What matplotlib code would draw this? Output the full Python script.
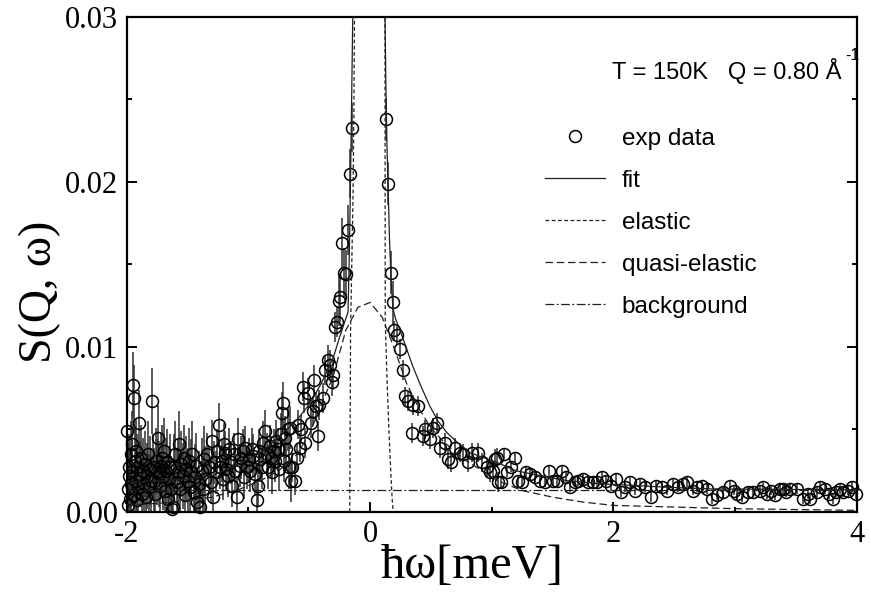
import numpy as np
import matplotlib
matplotlib.use("Agg")
import matplotlib.pyplot as plt
from matplotlib.lines import Line2D
from matplotlib.ticker import MultipleLocator, FormatStrFormatter

plt.rcParams['font.family'] = ['Liberation Serif', 'DejaVu Serif']
plt.rcParams['axes.unicode_minus'] = False

# ---------------- data ----------------
# segment 1: -2 .. -1.35
x1 = [-1.997,-1.993,-1.988,-1.983,-1.978,-1.973,-1.968,-1.963,-1.958,-1.953,
      -1.947,-1.942,-1.937,-1.932,-1.927,-1.922,-1.917,-1.912,-1.905,-1.898,
      -1.890,-1.882,-1.874,-1.866,-1.858,-1.850,-1.842,-1.834,-1.826,-1.818,
      -1.810,-1.800,-1.791,-1.782,-1.774,-1.766,-1.758,-1.750,-1.742,-1.734,
      -1.726,-1.718,-1.710,-1.702,-1.694,-1.686,-1.678,-1.670,-1.662,-1.654,
      -1.646,-1.638,-1.630,-1.619,-1.610,-1.600,-1.590,-1.580,-1.570,-1.560,
      -1.550,-1.540,-1.530,-1.520,-1.510,-1.500,-1.490,-1.480,-1.470,-1.460,
      -1.450,-1.440,-1.430,-1.420,-1.410,-1.397,-1.385,-1.375,-1.365,-1.355]
y1 = [0.0049,0.0014,0.0004,0.0022,0.0027,0.0008,0.0035,0.0017,0.0041,0.0025,
      0.0077,0.0069,0.0010,0.0031,0.0019,0.0037,0.0007,0.0027,0.0015,0.0054,
      0.0023,0.0033,0.0011,0.0025,0.0017,0.0029,0.0009,0.0022,0.0035,0.0015,
      0.0026,0.0019,0.0067,0.0027,0.0019,0.0011,0.0031,0.0024,0.0045,0.0023,
      0.0016,0.0028,0.0033,0.0021,0.0037,0.0013,0.0025,0.0030,0.0008,0.0020,
      0.0027,0.0014,0.0002,0.0003,0.0027,0.0035,0.0018,0.0024,0.0041,0.0014,
      0.0029,0.0022,0.0033,0.0010,0.0026,0.0019,0.0031,0.0015,0.0024,0.0035,
      0.0012,0.0021,0.0028,0.0006,0.0017,0.0003,0.0025,0.0014,0.0032,0.0020]
e1 = 0.0020

# segment 2: -1.34 .. -0.65
x2 = [-1.339,-1.325,-1.310,-1.298,-1.294,-1.282,-1.268,-1.255,-1.241,-1.230,
      -1.218,-1.208,-1.200,-1.192,-1.180,-1.168,-1.156,-1.144,-1.132,-1.120,
      -1.108,-1.093,-1.085,-1.072,-1.060,-1.048,-1.038,-1.027,-1.012,-0.998,
      -0.986,-0.972,-0.960,-0.948,-0.929,-0.920,-0.912,-0.904,-0.890,-0.876,
      -0.863,-0.850,-0.838,-0.826,-0.814,-0.802,-0.790,-0.781,-0.770,-0.758,
      -0.746,-0.734,-0.723,-0.715,-0.711,-0.700,-0.688,-0.676,-0.666,-0.657,
      -0.650]
y2 = [0.0035,0.0027,0.0018,0.0043,0.0009,0.0030,0.0024,0.0037,0.0053,0.0027,
      0.0031,0.0020,0.0041,0.0036,0.0026,0.0022,0.0038,0.0030,0.0016,0.0035,
      0.0025,0.0009,0.0044,0.0028,0.0033,0.0037,0.0021,0.0039,0.0027,0.0032,
      0.0025,0.0038,0.0034,0.0023,0.0007,0.0016,0.0037,0.0032,0.0027,0.0042,
      0.0049,0.0035,0.0027,0.0040,0.0033,0.0024,0.0037,0.0031,0.0043,0.0038,
      0.0026,0.0047,0.0060,0.0066,0.0031,0.0045,0.0038,0.0050,0.0027,0.0051,
      0.0019]
e2 = 0.0013

# segment 3: rising flank -0.64 .. -0.27
x3 = [-0.641,-0.616,-0.600,-0.596,-0.575,-0.571,-0.551,-0.542,-0.534,-0.509,
      -0.485,-0.468,-0.460,-0.444,-0.427,-0.419,-0.386,-0.370,-0.345,-0.329,
      -0.312,-0.304,-0.288,-0.271]
y3 = [0.0027,0.0019,0.0033,0.0053,0.0039,0.0050,0.0076,0.0069,0.0042,0.0072,
      0.0054,0.0061,0.0080,0.0064,0.0046,0.0065,0.0069,0.0086,0.0092,0.0089,
      0.0079,0.0083,0.0112,0.0115]
e3 = 0.0009

# segment 4: left side of the peak
x4 = [-0.255,-0.247,-0.230,-0.214,-0.197,-0.181,-0.164,-0.148]
y4 = [0.0128,0.0130,0.0163,0.0145,0.0144,0.0171,0.0205,0.0233]
e4 = 0.0015

# segment 5: right side of the peak
x5 = [0.131,0.148,0.173,0.189]
y5 = [0.0238,0.0199,0.0145,0.0127]
e5 = 0.0013

# segment 6: falling flank 0.2 .. 1.05
x6 = [0.197,0.222,0.247,0.271,0.288,0.312,0.345,0.353,0.394,0.435,
      0.452,0.493,0.518,0.551,0.575,0.616,0.641,0.666,0.698,0.740,
      0.764,0.805,0.838,0.887,0.920,0.961,0.986,1.011,1.027,1.044,1.052]
y6 = [0.0110,0.0107,0.0099,0.0086,0.0070,0.0067,0.0048,0.0065,0.0064,0.0046,
      0.0050,0.0044,0.0051,0.0054,0.0039,0.0042,0.0032,0.0030,0.0039,0.0036,
      0.0035,0.0030,0.0036,0.0036,0.0030,0.0027,0.0024,0.0025,0.0032,0.0033,
      0.0018]
e6 = 0.0006

# segment 7: tail 1.07 .. 4
x7 = [1.076,1.101,1.126,1.159,1.191,1.216,1.249,1.282,1.315,1.356,
      1.397,1.438,1.471,1.504,1.537,1.578,1.611,1.643,1.684,1.709,
      1.750,1.791,1.832,1.865,1.906,1.939,1.980,2.021,2.062,2.095,
      2.136,2.177,2.219,2.260,2.309,2.350,2.399,2.440,2.490,2.531,
      2.570,2.605,2.654,2.690,2.728,2.770,2.810,2.851,2.901,2.958,
      2.990,3.016,3.057,3.106,3.147,3.205,3.230,3.262,3.300,3.328,
      3.369,3.394,3.420,3.451,3.509,3.558,3.600,3.615,3.673,3.700,
      3.739,3.770,3.804,3.830,3.862,3.890,3.928,3.960,3.995]
y7 = [0.0018,0.0035,0.0024,0.0027,0.0033,0.0019,0.0018,0.0024,0.0023,0.0021,
      0.0019,0.0018,0.0025,0.0019,0.0019,0.0025,0.0021,0.0015,0.0018,0.0019,
      0.0020,0.0018,0.0018,0.0018,0.0021,0.0019,0.0016,0.0020,0.0012,0.0015,
      0.0018,0.0013,0.0017,0.0015,0.0009,0.0016,0.0015,0.0013,0.0017,0.0015,
      0.0017,0.0018,0.0013,0.0015,0.0016,0.0014,0.0008,0.0010,0.0012,0.0016,
      0.0013,0.0011,0.0009,0.0012,0.0012,0.0013,0.0015,0.0011,0.0013,0.0010,
      0.0014,0.0014,0.0012,0.0014,0.0014,0.0008,0.0011,0.0008,0.0012,0.0015,
      0.0014,0.0011,0.0008,0.0012,0.0014,0.0012,0.0013,0.0015,0.0011]
e7 = 0.0003

# model curves
fit_x = [-2.0,-1.7,-1.5,-1.3,-1.1,-0.9,-0.75,-0.6,-0.5,-0.4,-0.3,-0.25,-0.2,
         -0.181,-0.172,-0.164,-0.153,-0.142,-0.135,
         0.115,0.123,0.130,0.140,0.148,0.160,0.175,0.189,0.21,0.247,0.30,0.353,
         0.42,0.493,0.56,0.633,0.72,0.822,0.93,1.044,1.2,1.4,1.619,1.9,2.2,2.44,
         2.8,3.2,3.6,4.0]
fit_y = [0.0018,0.0019,0.0020,0.0022,0.0028,0.0036,0.0045,0.0056,0.0065,0.0078,
         0.0094,0.0106,0.0117,0.0121,0.0150,0.0183,0.0240,0.0300,0.0340,
         0.036,0.030,0.026,0.022,0.0199,0.0165,0.0138,0.0123,0.0117,0.0110,0.0099,
         0.0088,0.0076,0.0064,0.0055,0.0048,0.0042,0.0036,0.0033,0.0030,0.0025,
         0.0022,0.0019,0.0017,0.0016,0.0015,0.0014,0.00138,0.00136,0.00135]
el_x = [-0.167,-0.164,-0.160,-0.150,-0.140,-0.133,-0.128,-0.120,
        0.118,0.123,0.124,0.125,0.140,0.155,0.170,0.182,0.190]
el_y = [0.0,0.004,0.011,0.015,0.019,0.024,0.030,0.038,
        0.038,0.030,0.020,0.0116,0.0080,0.0050,0.0025,0.0008,0.0]
qe_x = [-2.0,-1.6,-1.3,-1.1,-0.9,-0.75,-0.6,-0.5,-0.4,-0.3,-0.2,-0.1,0.0,0.1,
        0.2,0.3,0.4,0.5,0.6,0.75,0.9,1.05,1.25,1.5,1.75,2.0,2.5,3.0,3.5,4.0]
qe_y = [0.0004,0.0006,0.0009,0.0013,0.0019,0.0025,0.0035,0.0047,0.0065,0.0083,
        0.0110,0.0124,0.0127,0.0118,0.0099,0.0078,0.0063,0.0051,0.0043,0.0033,
        0.0026,0.0019,0.0013,0.0009,0.0006,0.0004,0.0003,0.0002,0.00015,0.0001]
bg_x = [-2.0, 4.0]
bg_y = [0.00135, 0.00135]

# ---------------- figure ----------------
fig = plt.figure(figsize=(8.71, 5.95), dpi=100)
ax = fig.add_axes([0.1455, 0.1395, 0.838, 0.832])

segments = [(x1, y1, e1), (x2, y2, e2), (x3, y3, e3), (x4, y4, e4),
            (x5, y5, e5), (x6, y6, e6), (x7, y7, e7)]
for xs, ys, e in segments:
    ax.errorbar(xs, ys, yerr=np.full(len(xs), e), fmt='none', ecolor='#2e2e2e',
                elinewidth=1.1, capsize=0, zorder=2)
for xs, ys, e in segments:
    ax.plot(xs, ys, ls='none', marker='o', ms=8.6, mfc='none', mec='black',
            mew=1.1, zorder=3, clip_on=False)

lc = '#202020'
ax.plot(fit_x, fit_y, color=lc, lw=0.9, ls='-', zorder=4)
ax.plot(el_x, el_y, color=lc, lw=0.9, ls=(0, (3, 2)), zorder=4)
ax.plot(qe_x, qe_y, color=lc, lw=0.9, ls=(0, (6, 3)), zorder=4)
ax.plot(bg_x, bg_y, color=lc, lw=0.9, ls=(0, (7, 2, 1.5, 2)), zorder=4)

ax.set_xlim(-2, 4)
ax.set_ylim(0, 0.03)
ax.xaxis.set_major_locator(MultipleLocator(2))
ax.xaxis.set_minor_locator(MultipleLocator(1))
ax.yaxis.set_major_locator(MultipleLocator(0.01))
ax.yaxis.set_minor_locator(MultipleLocator(0.005))
ax.yaxis.set_major_formatter(FormatStrFormatter('%.2f'))
ax.tick_params(which='both', direction='in', top=False, right=True, width=1.4,
               labelsize=22, pad=6)
ax.tick_params(which='major', length=7)
ax.tick_params(which='minor', length=3.5)
for s in ax.spines.values():
    s.set_linewidth(1.6)

ax.text((472 - 126.7) / 730, -0.064, 'ħω[meV]', transform=ax.transAxes,
        ha='center', va='top', fontsize=35)
ax.text((40 - 126.7) / 730, 0.445, 'S(Q, ω)', transform=ax.transAxes,
        ha='center', va='center', rotation=90, fontsize=33)

sans = ['Liberation Sans', 'DejaVu Sans']
ax.text(0.665, 0.875, 'T = 150K   Q = 0.80 Å', transform=ax.transAxes,
        ha='left', va='baseline', fontsize=17, family=sans)
ax.text(0.984, 0.913, '-1', transform=ax.transAxes,
        ha='left', va='baseline', fontsize=11.5, family=sans)

handles = [Line2D([], [], ls='none', marker='o', ms=8.6, mfc='none', mec='black', mew=1.1),
           Line2D([], [], color=lc, lw=0.9, ls='-'),
           Line2D([], [], color=lc, lw=0.9, ls=(0, (3, 2))),
           Line2D([], [], color=lc, lw=0.9, ls=(0, (6, 3))),
           Line2D([], [], color=lc, lw=0.9, ls=(0, (7, 2, 1.5, 2)))]
labels = ['exp data', 'fit', 'elastic', 'quasi-elastic', 'background']
ax.legend(handles, labels, loc='upper left', bbox_to_anchor=(0.573, 0.776),
          frameon=False, borderpad=0, borderaxespad=0, handlelength=2.45,
          handletextpad=0.7, labelspacing=0.82, numpoints=1,
          prop={'family': sans, 'size': 17.5})

fig.savefig('out.png', dpi=100)
